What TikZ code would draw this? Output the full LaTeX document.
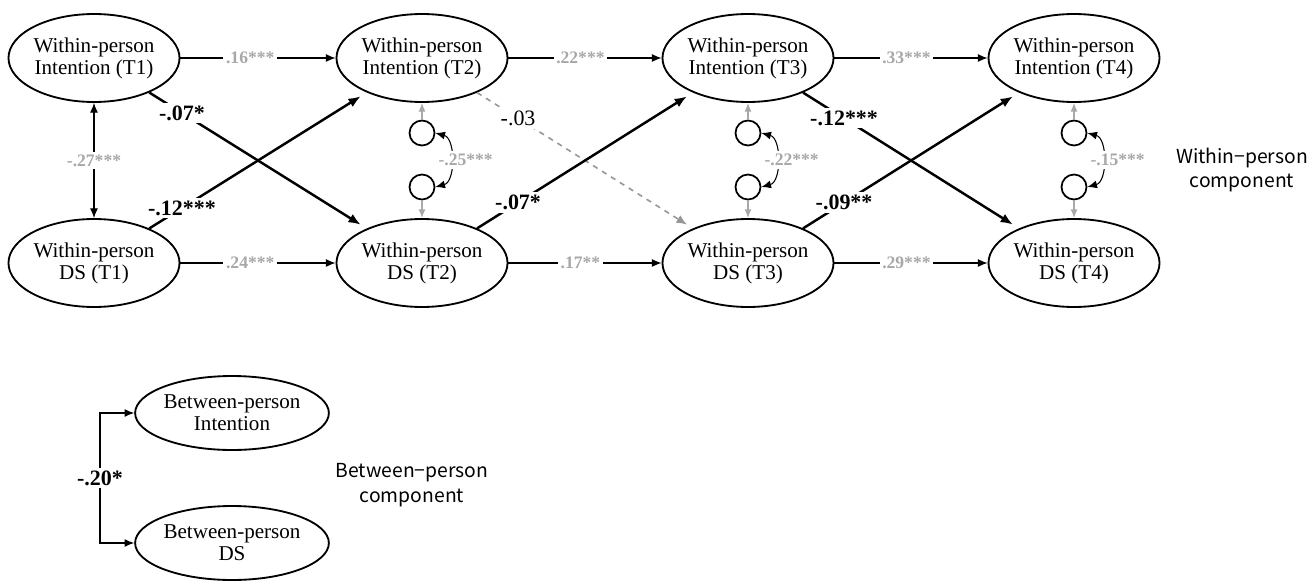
\documentclass[tikz,border=0pt]{standalone}
\usepackage{fontspec}
\setmainfont{Liberation Serif}
\newfontfamily\gothic{Noto Sans CJK JP}
\usetikzlibrary{shapes.geometric,arrows.meta}
\definecolor{lgray}{RGB}{168,168,168}
\definecolor{dgray}{RGB}{150,150,150}
\begin{document}
\begin{tikzpicture}[x=0.02cm,y=-0.02cm,
  latent/.style={draw,ellipse,line width=1.05pt,minimum width=3.24cm,minimum height=1.76cm,inner sep=0pt,align=center,font=\fontsize{12}{12.6}\selectfont},
  resid/.style={draw,circle,line width=1pt,minimum size=0.5cm,inner sep=0pt},
  path/.style={line width=0.6pt,-{Latex[length=5.5pt,width=4.5pt]}},
  dpath/.style={line width=0.6pt,{Latex[length=5.5pt,width=4.5pt]}-{Latex[length=5.5pt,width=4.5pt]}},
  cross/.style={line width=1.4pt,-{Latex[length=7pt,width=5.5pt]},shorten >=4pt},
  gpath/.style={lgray,line width=0.7pt,-{Latex[length=5pt,width=4pt]}},
  glab/.style={fill=white,text=lgray,inner sep=1.5pt,font=\fontsize{10}{12}\selectfont\bfseries},
  blab/.style={fill=white,text=black,inner sep=1.5pt,font=\fontsize{12.5}{14}\selectfont\bfseries},
  nlab/.style={fill=white,text=black,inner sep=1.5pt,font=\fontsize{12.5}{14}\selectfont},
  comp/.style={align=center,font=\gothic\fontsize{11}{14}\selectfont}]
\useasboundingbox (0,0) rectangle (1310,581);
\foreach \i/\x in {1/94,2/422,3/748,4/1074}{
  \node[latent] (I\i) at (\x,58) {Within-person\\Intention (T\i)};
  \node[latent] (D\i) at (\x,263) {Within-person\\DS (T\i)};
}
% residuals and their covariances
\foreach \i/\x/\r in {2/422/-.25***,3/748/-.22***,4/1074/-.15***}{
  \node[resid] (uI\i) at (\x,133) {};
  \node[resid] (uD\i) at (\x,187) {};
  \draw[gpath] (uI\i) -- (I\i);
  \draw[gpath] (uD\i) -- (D\i);
  \draw[dpath] (uI\i.east) to[bend left=75] node[glab,midway,xshift=0.3cm]{\r} (uD\i.east);
}
\draw[dpath] (I1) -- node[glab]{-.27***} (D1);
% stability paths
\draw[path] (I1) -- node[glab,pos=0.45]{.16***} (I2);
\draw[path] (I2) -- node[glab,pos=0.47]{.22***} (I3);
\draw[path] (I3) -- node[glab,pos=0.47]{.33***} (I4);
\draw[path] (D1) -- node[glab,pos=0.45]{.24***} (D2);
\draw[path] (D2) -- node[glab,pos=0.47]{.17**} (D3);
\draw[path] (D3) -- node[glab,pos=0.47]{.29***} (D4);
% cross-lagged paths
\draw[cross] (I1) -- node[blab,pos=0.15]{-.07*} (D2);
\draw[cross] (D1) -- node[blab,pos=0.15]{-.12***} (I2);
\draw[cross,dgray,line width=0.9pt,dashed,-{Latex[length=6pt,width=5pt]}] (I2) -- node[nlab,pos=0.19]{-.03} (D3);
\draw[cross] (D2) -- node[blab,pos=0.19]{-.07*} (I3);
\draw[cross] (I3) -- node[blab,pos=0.19]{-.12***} (D4);
\draw[cross] (D3) -- node[blab,pos=0.19]{-.09**} (I4);
\node[comp] (wc) at (1242,170) {Within−person\\component};
% between part
\node[latent,minimum width=3.58cm,minimum height=1.48cm] (BI) at (232,413) {Between-person\\Intention};
\node[latent,minimum width=3.58cm,minimum height=1.48cm] (BD) at (232,543) {Between-person\\DS};
\coordinate (brk) at (100,478);
\draw[dpath] (BI.west) -- (BI.west -| brk) -- (BD.west -| brk) -- (BD.west);
\node[blab] (bcov) at (brk) {-.20*};
\node[comp] (bc) at (412,485) {Between−person\\component};
\end{tikzpicture}
\end{document}
